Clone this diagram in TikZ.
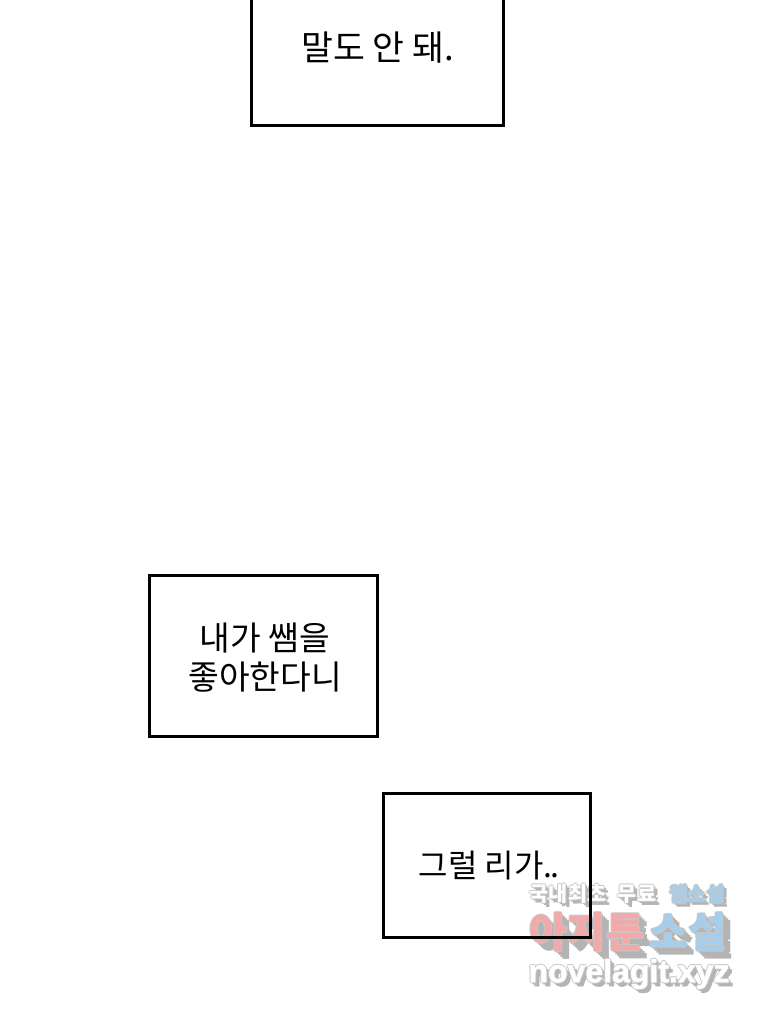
\documentclass[tikz,border=0pt]{standalone}
\usepackage{fontspec}
\setmainfont{Noto Sans CJK KR}
\newfontfamily\wmfont{Noto Sans CJK KR}
\newfontfamily\wmlatin{Liberation Sans}[FakeBold=1.5]
\definecolor{wmshadow}{HTML}{B4B4B4}
\definecolor{wmpink}{HTML}{F2A9A9}
\definecolor{wmblue}{HTML}{A5CDEC}
\definecolor{wmedge}{HTML}{C8C8C8}
\tikzset{
  panel/.style={draw=black,line width=2.25pt,fill=none,inner sep=0pt},
  said/.style={font=\fontsize{25}{29.3}\selectfont,text=black,align=center,inner sep=0pt},
  wmtext/.style={inner sep=0pt,anchor=center},
}
% layered watermark word: x, y, size, colour, shadow offset, text
\newcommand{\wmword}[6]{%
  \foreach \s in {2,4,...,#5}{\node[wmtext,text=wmshadow] at (#1+\s,#2+\s) {\fontsize{#3}{#3}\selectfont #6};}
  \foreach \dx/\dy in {-1/0,1/0,0/-1,0/1}{\node[wmtext,text=wmedge] at (#1+\dx,#2+\dy) {\fontsize{#3}{#3}\selectfont #6};}
  \node[wmtext,text=#4] at (#1,#2) {\fontsize{#3}{#3}\selectfont #6};
}
\begin{document}
\begin{tikzpicture}[x=0.75pt,y=-0.75pt]
\useasboundingbox[fill=white] (0,0) rectangle (760,1014);
% watermark
\wmfont\bfseries
\wmword{568}{894}{15.5}{white}{4}{국내최초}
\wmword{637}{894}{15.5}{white}{4}{무료}
\wmword{697}{894}{15}{wmblue}{4}{웹소설}
\wmword{587}{932}{31}{wmpink}{8}{아지툰}
\wmword{688}{932}{31}{wmblue}{8}{소설}
\wmlatin
\wmword{629}{974}{24}{white}{4}{novelagit.xyz}
\normalfont
% panels
\node[panel,minimum width=189pt,minimum height=135pt,anchor=south west] (p1) at (249.5,126.5) {};
\node[panel,minimum width=171pt,minimum height=120.75pt,anchor=north west] (p2) at (147.5,573.5) {};
\node[panel,minimum width=155.25pt,minimum height=108pt,anchor=north west] (p3) at (381.5,791.5) {};
% speech
\node[said,font=\fontsize{26}{29}\selectfont] (t1) at (377.5,48) {말도 안 돼.};
\node[said] (t2) at (265,658) {내가 쌤을\\좋아한다니};
\node[said,font=\fontsize{24}{28}\selectfont] (t3) at (489,866) {그럴 리가.\kern-1.5pt.};
\end{tikzpicture}
\end{document}
